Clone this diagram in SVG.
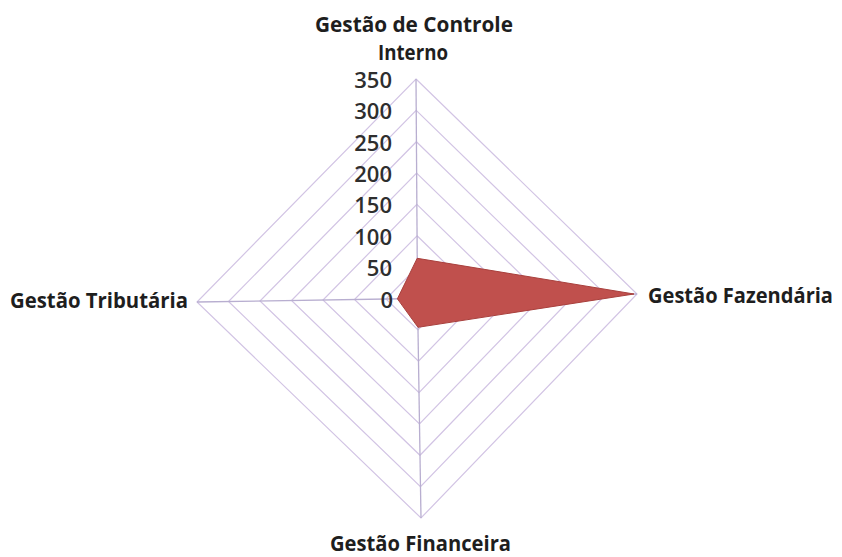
<svg xmlns="http://www.w3.org/2000/svg" width="842" height="557" viewBox="0 0 842 557">
<style>
.ring{fill:none;stroke:#d2c4e4;stroke-width:1.2}
.axis{stroke:#b8aed0;stroke-width:1.3}
.lbl{font-family:"Open Sans","Liberation Sans",sans-serif;font-weight:bold;font-size:22px;fill:#1e1e1e}
.num{font-family:"Open Sans","Liberation Sans",sans-serif;font-weight:600;font-size:22px;fill:#2e2e2e;text-anchor:end;dominant-baseline:central}
</style>
<rect width="842" height="557" fill="#fff"/>
<g id="grid">
<polygon class="ring" points="417.29,267.14 448.86,297.86 418.0,329.86 386.0,299.0"/>
<polygon class="ring" points="417.07,235.79 480.21,297.21 418.5,361.21 354.5,299.5"/>
<polygon class="ring" points="416.86,204.43 511.57,296.57 419.0,392.57 323.0,300.0"/>
<polygon class="ring" points="416.64,173.07 542.93,295.93 419.5,423.93 291.5,300.5"/>
<polygon class="ring" points="416.43,141.71 574.29,295.29 420.0,455.29 260.0,301.0"/>
<polygon class="ring" points="416.21,110.36 605.64,294.64 420.5,486.64 228.5,301.5"/>
<polygon class="ring" points="416,79 637,294 421,518 197,302"/>
</g>
<g id="connectors">
<line class="axis" x1="417.5" y1="298.5" x2="416" y2="79"/>
<line class="axis" x1="417.5" y1="298.5" x2="637" y2="294"/>
<line class="axis" x1="417.5" y1="298.5" x2="421" y2="518"/>
<line class="axis" x1="417.5" y1="298.5" x2="197" y2="302"/>
</g>
<g id="series">
<polygon points="417.2,258.3 634,294 418,327.3 397.4,298.8" fill="#c0504d" stroke="#a8403d" stroke-width="1"/>
</g>
<g id="scale">
<text class="num" x="392" y="79">350</text>
<text class="num" x="392" y="110.4">300</text>
<text class="num" x="392" y="141.7">250</text>
<text class="num" x="392" y="173.1">200</text>
<text class="num" x="392" y="204.4">150</text>
<text class="num" x="392" y="235.8">100</text>
<text class="num" x="392" y="267.1">50</text>
<text class="num" x="393" y="298.5">0</text>
</g>
<g id="node-controle">
<text class="lbl" x="315" y="32" textLength="198" lengthAdjust="spacingAndGlyphs">Gestão de Controle</text>
<text class="lbl" x="378" y="60" textLength="70" lengthAdjust="spacingAndGlyphs">Interno</text>
</g>
<g id="node-fazendaria">
<text class="lbl" x="648" y="303" style="font-size:20.5px" textLength="185" lengthAdjust="spacingAndGlyphs">Gestão Fazendária</text>
</g>
<g id="node-financeira">
<text class="lbl" x="330" y="551" textLength="181" lengthAdjust="spacingAndGlyphs">Gestão Financeira</text>
</g>
<g id="node-tributaria">
<text class="lbl" x="10" y="308" textLength="178" lengthAdjust="spacingAndGlyphs">Gestão Tributária</text>
</g>
</svg>
